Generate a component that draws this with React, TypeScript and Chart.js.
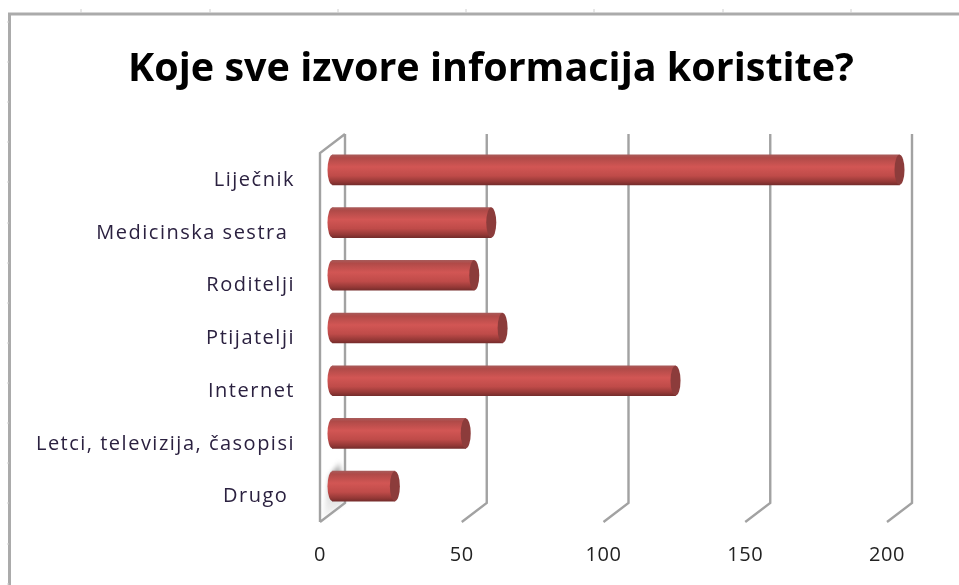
import React, { useEffect, useRef } from "react";
import { Chart, registerables } from "chart.js";

Chart.register(...registerables);

const categories = ["Liječnik", "Medicinska sestra ", "Roditelji", "Ptijatelji", "Internet", "Letci, televizija, časopisi", "Drugo "];
const values = [200, 56, 50, 60, 121, 47, 22];
const xTicks = [0, 50, 100, 150, 200];
const titleText = "Koje sve izvore informacija koristite?";
const sheetTicksTop = [81, 210, 338, 466, 594, 723, 851];
const sheetTicksLeft = [22, 62, 102, 142, 182, 223, 263, 303, 343, 383, 423, 463, 503, 544, 584];

const DEPTH_X = 25;
const DEPTH_Y = 19;
const BAR_H = 30;
const WALL = "#a2a2a2";

function barGradient(ctx: CanvasRenderingContext2D, cy: number) {
  const top = cy - BAR_H / 2;
  const g = ctx.createLinearGradient(0, top, 0, top + BAR_H);
  g.addColorStop(0, "#a85a59");
  g.addColorStop(0.1, "#b04a48");
  g.addColorStop(0.4, "#d25654");
  g.addColorStop(0.7, "#bf4b49");
  g.addColorStop(0.9, "#943836");
  g.addColorStop(1, "#762d2c");
  return g;
}

function spaced(scale: any, ctx: CanvasRenderingContext2D, spacing: string, dy: number) {
  const draw = scale.drawLabels;
  scale.drawLabels = function (area: any) {
    ctx.save();
    (ctx as any).letterSpacing = spacing;
    ctx.translate(0, dy);
    draw.call(this, area);
    ctx.restore();
  };
}

const scenePlugin = {
  id: "scene",
  afterInit(chart: any) {
    chart.$spaced = false;
  },
  beforeDraw(chart: any) {
    const { ctx } = chart;
    if (!chart.$spaced) {
      chart.$spaced = true;
      spaced(chart.scales.y, ctx, "1.5px", 1);
      spaced(chart.scales.x, ctx, "0.5px", 0);
    }
    // let the long category label extend past the axis box
    chart.scales.y.left = 0;
    ctx.save();
    ctx.fillStyle = "#ffffff";
    ctx.fillRect(0, 0, 959, 585);
    ctx.strokeStyle = "#ababab";
    ctx.lineWidth = 3;
    ctx.beginPath();
    ctx.moveTo(959, 14);
    ctx.lineTo(9.5, 14);
    ctx.lineTo(9.5, 585);
    ctx.stroke();
    ctx.strokeStyle = "#d0d0d0";
    ctx.lineWidth = 1;
    ctx.beginPath();
    sheetTicksTop.forEach((x) => {
      ctx.moveTo(x, 9);
      ctx.lineTo(x, 13);
    });
    sheetTicksLeft.forEach((y) => {
      ctx.moveTo(7, y);
      ctx.lineTo(9, y);
    });
    ctx.stroke();
    ctx.restore();
  },
  beforeDatasetsDraw(chart: any) {
    const { ctx, chartArea, scales } = chart;
    const { top, bottom } = chartArea;
    const x = scales.x;
    ctx.save();
    const x0 = x.getPixelForValue(0);
    const sg = ctx.createLinearGradient(0, bottom - 62, 0, bottom - 3);
    sg.addColorStop(0, "rgba(130,130,130,0)");
    sg.addColorStop(0.2, "rgba(130,130,130,0.7)");
    sg.addColorStop(0.6, "rgba(170,170,170,0.4)");
    sg.addColorStop(1, "rgba(210,210,210,0.2)");
    ctx.fillStyle = sg;
    (ctx as any).filter = "blur(2px)";
    ctx.beginPath();
    ctx.moveTo(x0 + 3, bottom - 3);
    ctx.lineTo(x0 + DEPTH_X, bottom - DEPTH_Y);
    ctx.lineTo(x0 + DEPTH_X - 5, bottom - 62);
    ctx.lineTo(x0 + 9, bottom - 45);
    ctx.closePath();
    ctx.fill();
    (ctx as any).filter = "none";

    ctx.strokeStyle = WALL;
    ctx.lineWidth = 2.4;
    ctx.beginPath();
    ctx.moveTo(x0 + DEPTH_X, top - DEPTH_Y);
    ctx.lineTo(x0, top);
    ctx.lineTo(x0, bottom);
    xTicks.forEach((t) => {
      const px = x.getPixelForValue(t);
      ctx.moveTo(px + DEPTH_X, top - DEPTH_Y);
      ctx.lineTo(px + DEPTH_X, bottom - DEPTH_Y);
      ctx.lineTo(px, bottom);
    });
    ctx.stroke();
    ctx.restore();

    ctx.save();
    ctx.translate(DEPTH_X / 2, -DEPTH_Y / 2);
    // rounded far end of each cylinder
    const meta = chart.getDatasetMeta(0);
    meta.data.forEach((el: any) => {
      ctx.fillStyle = barGradient(ctx, el.y);
      ctx.beginPath();
      ctx.ellipse(el.base, el.y, 5, BAR_H / 2, 0, 0, Math.PI * 2);
      ctx.fill();
    });
  },
  afterDatasetsDraw(chart: any) {
    const { ctx } = chart;
    const meta = chart.getDatasetMeta(0);
    meta.data.forEach((el: any) => {
      ctx.fillStyle = "#8c3c3b";
      ctx.beginPath();
      ctx.ellipse(el.x, el.y, 5, BAR_H / 2, 0, 0, Math.PI * 2);
      ctx.fill();
    });
    ctx.restore();
  },
};

export default function App() {
  const ref = useRef<HTMLCanvasElement>(null);
  useEffect(() => {
    const chart = new Chart(ref.current!, {
      type: "bar",
      data: {
        labels: categories,
        datasets: [
          {
            data: values,
            barThickness: BAR_H,
            borderWidth: 0,
            clip: false,
            backgroundColor: (c: any) => {
              const y = c.chart.scales.y;
              const cy = y ? y.getPixelForValue(c.dataIndex) : NaN;
              if (!Number.isFinite(cy)) return "#c0504d";
              return barGradient(c.chart.ctx, cy);
            },
          } as any,
        ],
      },
      options: {
        indexAxis: "y",
        responsive: false,
        animation: false,
        layout: { padding: { left: 95, right: 72, top: 0, bottom: 0 } },
        plugins: {
          legend: { display: false },
          tooltip: { enabled: false },
          title: {
            display: true,
            text: titleText,
            color: "#000000",
            font: { family: "'Open Sans'", size: 39.5, weight: "bold", lineHeight: 1.2 },
            padding: { top: 46, bottom: 59.6 },
          },
        },
        scales: {
          x: {
            type: "linear",
            min: 0,
            max: 200,
            grid: { display: false },
            border: { display: false },
            afterBuildTicks: (s: any) => {
              s.ticks = xTicks.map((value) => ({ value }));
            },
            ticks: {
              color: "#222222",
              padding: 13,
              maxRotation: 0,
              font: { family: "'Open Sans'", size: 20 },
            },
            afterFit: (s: any) => {
              s.height = 63;
            },
          },
          y: {
            type: "category",
            grid: { display: false },
            border: { display: false },
            ticks: {
              color: "#2b2140",
              padding: 17,
              autoSkip: false,
              font: { family: "'Open Sans'", size: 20 },
            },
            afterFit: (s: any) => {
              s.width = 225;
            },
          },
        },
      } as any,
      plugins: [scenePlugin],
    });
    return () => chart.destroy();
  }, []);
  return (
    <canvas
      ref={ref}
      width={959}
      height={585}
      style={{ position: "absolute", left: 0, top: 0, display: "block", filter: "blur(0.5px)" }}
    />
  );
}
